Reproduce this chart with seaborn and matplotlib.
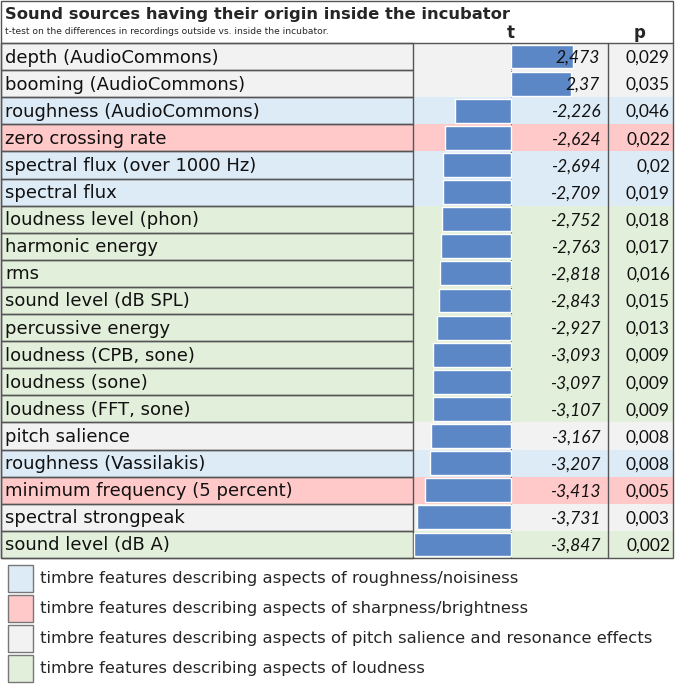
import matplotlib
matplotlib.use("Agg")
import matplotlib.pyplot as plt
import seaborn as sns
import pandas as pd
from matplotlib.patches import Rectangle
from matplotlib.transforms import blended_transform_factory

features = [
    "depth (AudioCommons)", "booming (AudioCommons)", "roughness (AudioCommons)",
    "zero crossing rate", "spectral flux (over 1000 Hz)", "spectral flux",
    "loudness level (phon)", "harmonic energy", "rms", "sound level (dB SPL)",
    "percussive energy", "loudness (CPB, sone)", "loudness (sone)",
    "loudness (FFT, sone)", "pitch salience", "roughness (Vassilakis)",
    "minimum frequency (5 percent)", "spectral strongpeak", "sound level (dB A)",
]
t_values = [2.473, 2.37, -2.226, -2.624, -2.694, -2.709, -2.752, -2.763, -2.818,
            -2.843, -2.927, -3.093, -3.097, -3.107, -3.167, -3.207, -3.413,
            -3.731, -3.847]
t_labels = ["2,473", "2,37", "-2,226", "-2,624", "-2,694", "-2,709", "-2,752",
            "-2,763", "-2,818", "-2,843", "-2,927", "-3,093", "-3,097", "-3,107",
            "-3,167", "-3,207", "-3,413", "-3,731", "-3,847"]
p_labels = ["0,029", "0,035", "0,046", "0,022", "0,02", "0,019", "0,018", "0,017",
            "0,016", "0,015", "0,013", "0,009", "0,009", "0,009", "0,008", "0,008",
            "0,005", "0,003", "0,002"]
groups = ["pitch", "pitch", "rough", "sharp", "rough", "rough", "loud", "loud",
          "loud", "loud", "loud", "loud", "loud", "loud", "pitch", "rough",
          "sharp", "pitch", "loud"]
legend_keys = ["rough", "sharp", "pitch", "loud"]
legend_texts = [
    "timbre features describing aspects of roughness/noisiness",
    "timbre features describing aspects of sharpness/brightness",
    "timbre features describing aspects of pitch salience and resonance effects",
    "timbre features describing aspects of loudness",
]

group_colors = {"rough": "#ddebf7", "sharp": "#ffc9c9", "pitch": "#f2f2f2", "loud": "#e2efda"}
bar_color = "#5b87c6"
edge = "#555555"

df = pd.DataFrame({"feature": features, "t": t_values})

sns.set_style("white")
W, H = 675, 684
fig = plt.figure(figsize=(W / 100, H / 100), dpi=100)

# base layer in pixel coordinates
base = fig.add_axes([0, 0, 1, 1])
base.set_xlim(0, W)
base.set_ylim(H, 0)
base.axis("off")

top, bottom = 43, 558
row_h = (bottom - top) / len(features)
x_lab, x_bar, x_p, x_end = 1, 413, 608, 673

for i, g in enumerate(groups):
    y0 = top + i * row_h
    c = group_colors[g]
    base.add_patch(Rectangle((x_lab, y0), x_end - x_lab, row_h, fc=c, ec="none", zorder=0))
    base.add_patch(Rectangle((x_lab, y0), x_bar - x_lab, row_h, fc="none", ec=edge, lw=1.0, zorder=2))
    base.text(5, y0 + row_h / 2 + 1, features[i], fontsize=13, va="center", ha="left",
              family="DejaVu Sans", color="#111111")

# outer frame and column lines
base.add_patch(Rectangle((x_lab, 1), x_end - x_lab, bottom - 1, fc="none", ec=edge, lw=1.0, zorder=3))
base.plot([x_lab, x_end], [top, top], color=edge, lw=1.0, zorder=3)
base.plot([x_p, x_p], [top, bottom], color=edge, lw=1.0, zorder=3)

base.text(5, 15, "Sound sources having their origin inside the incubator", fontsize=11.8,
          fontweight="bold", va="center", ha="left", family="DejaVu Sans")
base.text(5, 32, "t-test on the differences in recordings outside vs. inside the incubator.",
          fontsize=6.6, va="center", ha="left", family="DejaVu Sans")
base.text(511, 33, "t", fontsize=12, fontweight="bold", va="center", ha="center")
base.text(640, 33, "p", fontsize=12, fontweight="bold", va="center", ha="center")

# legend
for k, (key, txt) in enumerate(zip(legend_keys, legend_texts)):
    y0 = 565 + k * 30
    base.add_patch(Rectangle((8, y0), 25, 27, fc=group_colors[key], ec="#777777", lw=1.0))
    base.text(40, y0 + 14, txt, fontsize=11.8, va="center", ha="left", family="DejaVu Sans")

# bar axes
ax = fig.add_axes([x_bar / W, 1 - bottom / H, (x_p - x_bar) / W, (bottom - top) / H])
ax.patch.set_alpha(0)
sns.barplot(data=df, x="t", y="feature", orient="h", color=bar_color, width=0.88,
            saturation=1, ax=ax)
ax.set_xlim(-3.89, 3.85)
ax.set_ylim(len(features) - 0.5, -0.5)
ax.axvline(0, color="#555555", lw=0.8, ls=(0, (1, 1.5)), zorder=0.5)
ax.axis("off")

tr = blended_transform_factory(ax.transAxes, ax.transData)
for i, (tl, pl) in enumerate(zip(t_labels, p_labels)):
    ax.text(0.96, i + 0.05, tl, transform=tr, ha="right", va="center", fontsize=12.5,
            style="italic", family="Lato", color="#111111")
    ax.text((670 - x_bar) / (x_p - x_bar), i + 0.05, pl, transform=tr, ha="right",
            va="center", fontsize=12.5, family="Lato", color="#111111", clip_on=False)

fig.savefig("out.png", dpi=100)
